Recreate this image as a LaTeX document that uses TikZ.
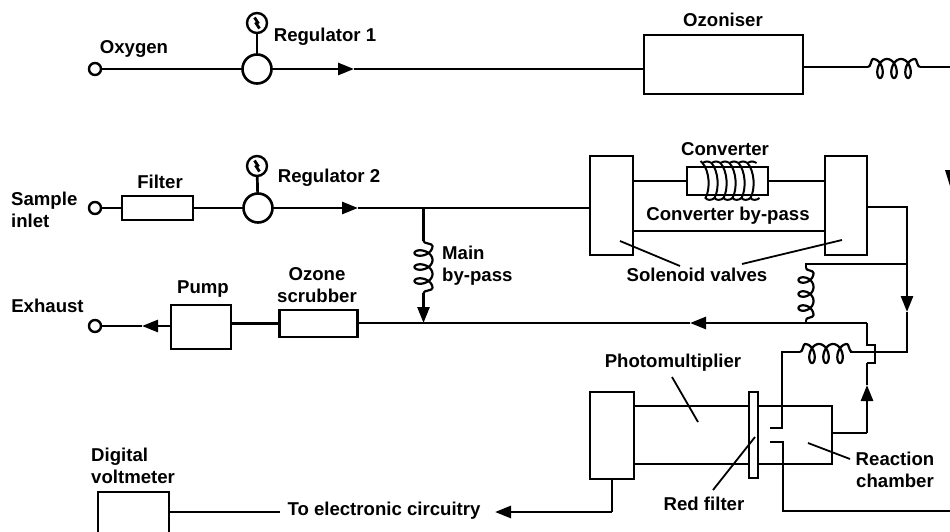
\documentclass[tikz,border=0pt]{standalone}
\usepackage{fontspec}
\setmainfont{Liberation Sans}[BoldFont={Liberation Sans Bold}]
\usetikzlibrary{arrows.meta}
\tikzset{
  pipe/.style={line width=2.7pt,line join=miter},
  thinpipe/.style={line width=2.3pt},
  flow/.style={pipe,-{Triangle[length=16pt,width=12pt]}},
  unit/.style={draw,line width=2.1pt,fill=white,rectangle,inner sep=0pt,outer sep=0pt},
  port/.style={draw,line width=2.4pt,circle,fill=white,minimum size=12pt,inner sep=0pt,outer sep=0pt},
  reg/.style={draw,line width=2.6pt,circle,fill=white,minimum size=29pt,inner sep=0pt,outer sep=0pt},
  gauge/.style={draw,line width=2.4pt,circle,fill=white,minimum size=20pt,inner sep=0pt,outer sep=0pt},
  lbl/.style={font=\fontsize{18.6}{22}\selectfont\bfseries,inner sep=0pt,align=center},
  lbll/.style={lbl,align=left},
  leader/.style={line width=1.8pt},
  coil/.style={line width=2.2pt,line join=round}
}
\newcommand{\coilh}[1]{\draw[coil,shift={(#1)}] (0,0) .. controls (3,0) and (3,-8) .. (5,-8)
  -- plot[samples=110,domain=-180:900,variable=\t] ({5+0.03892*(\t+180)-5.8*sin(\t)},{1.5+9.5*cos(\t)})
  .. controls (49,-8) and (49,0) .. (52,0);}
\newcommand{\coilv}[2]{\draw[coil,shift={(#1)}] (0,0) .. controls (0,3) and (#2,2) .. (#2,5)
  -- plot[samples=110,domain=-180:900,variable=\t] ({-#2*cos(\t)},{5+0.03892*(\t+180)-5.8*sin(\t)})
  .. controls (#2,50) and (0,49) .. (0,52);}
\newcommand{\needle}[1]{\draw[line width=2.8pt,shift={(#1)}] (-2.5,-5.5) -- (0.8,-0.5) -- (-0.8,0.5) -- (2.5,5.5);}
\begin{document}
\begin{tikzpicture}[x=1pt,y=-1pt]
\useasboundingbox (0,0) rectangle (950,532);
% units
\node[port] (oxy) at (95,69) {};
\node[reg] (reg1) at (257,69) {};
\node[gauge] (g1) at (257,23) {};
\node[unit,minimum width=159pt,minimum height=59pt] (ozoniser) at (723.5,64.5) {};
\node[port] (sample) at (95,208) {};
\node[unit,minimum width=71pt,minimum height=24pt] (filter) at (157.5,208) {};
\node[reg] (reg2) at (258,208) {};
\node[gauge] (g2) at (257,166) {};
\node[unit,minimum width=43pt,minimum height=99pt] (valveL) at (611.5,205.5) {};
\node[unit,minimum width=42pt,minimum height=99pt] (valveR) at (846,205.5) {};
\node[port] (exhaust) at (95,326) {};
\node[unit,minimum width=60pt,minimum height=44pt] (pump) at (201,327) {};
\node[unit,minimum width=78pt,minimum height=27pt] (scrubber) at (318.5,323.5) {};
\node[unit,minimum width=198pt,minimum height=58pt] (tube) at (733,435) {};
\node[unit,minimum width=44pt,minimum height=87pt] (pmt) at (612,435.5) {};
\node[unit,minimum width=9pt,minimum height=86pt] (red) at (753.5,435) {};
\node[unit,minimum width=71pt,minimum height=60pt] (dvm) at (133.5,522) {};
% junctions
\coordinate (ar1) at (354,69);
\coordinate (c1a) at (868,67);
\coordinate (c1b) at (920,67);
\coordinate (edge1) at (950,67);
\coordinate (ar2) at (358,208);
\coordinate (jmain) at (423.5,208);
\coordinate (mc1) at (423.5,241);
\coordinate (mc2) at (423.5,293);
\coordinate (jmain2) at (423.5,323);
\coordinate (rv) at (907,207);
\coordinate (jr) at (907,264);
\coordinate (ar3) at (907,312);
\coordinate (rc) at (907,352);
\coordinate (c2b) at (850,352);
\coordinate (c2a) at (800,352);
\coordinate (inA) at (782,352);
\coordinate (inB) at (782,428);
\coordinate (inC) at (770,428);
\coordinate (outC) at (770,442);
\coordinate (outB) at (783,442);
\coordinate (outD) at (783,511);
\coordinate (edge2) at (950,511);
\coordinate (c3t) at (806,264);
\coordinate (c3a) at (806,268);
\coordinate (c3b) at (806,320);
\coordinate (j3) at (806,323);
\coordinate (mr) at (867,323);
\coordinate (ar4) at (690,323);
\coordinate (jogA) at (867,345);
\coordinate (jogB) at (875,345);
\coordinate (jogC) at (875,363);
\coordinate (jogD) at (867,363);
\coordinate (ar5) at (867,385);
\coordinate (chamb) at (867,433);
\coordinate (ar6) at (142,326);
\coordinate (pmtb) at (612,512);
\coordinate (ar7) at (495,512);
\coordinate (teL) at (280,512);
% top line
\draw[pipe] (oxy) -- (reg1);
\draw[flow] (reg1) -- (ar1);
\draw[pipe] (ar1) -- (ar1 -| ozoniser.west);
\draw[pipe] (c1a -| ozoniser.east) -- (c1a);
\coilh{c1a}
\draw[pipe] (c1b) -- (edge1);
\fill (945,170) -- (950,170) -- (950,186) -- cycle;
\draw[pipe] (g1) -- (reg1);
% second line
\draw[thinpipe] (sample) -- (filter);
\draw[thinpipe] (filter) -- (reg2);
\draw[pipe] (g2) -- (reg2);
\draw[flow] (reg2) -- (ar2);
\draw[pipe] (ar2) -- (ar2 -| valveL.west);
\draw[pipe] (jmain) -- (mc1);
\coilv{mc1}{9}
\draw[flow] (mc2) -- (jmain2);
% valves and converter
\node[unit,minimum width=81pt,minimum height=28pt] (conv) at (727.5,181) {};
\draw[pipe] (conv.west -| valveL.east) -- (conv.west);
\draw[pipe] (conv.east) -- (conv.east -| valveR.west);
\draw[pipe] (valveL.east |- 0,231) -- (valveR.west |- 0,231);
\begin{scope}[shift={(conv.center)}]
\foreach \x in {-25,-16,-7,2,11,20} {
  \draw[line width=2pt] (\x,-18) .. controls (\x+7,-10) and (\x+8,8) .. (\x+3,17)
     .. controls (\x+5,19.5) and (\x+9,19.5) .. (\x+12,17);
  \draw[line width=2pt] (\x,-18) .. controls (\x+3,-20) and (\x+6,-20) .. (\x+9,-18);
}
\draw[line width=2pt] (-27,-20) -- (-25,-18);
\end{scope}
% right side
\draw[pipe] (valveR.east |- rv) -- (rv) -- (jr);
\draw[flow] (jr) -- (ar3);
\draw[pipe] (ar3) -- (rc) -- (c2b);
\coilh{c2a}
\draw[pipe] (c2a) -- (inA) -- (inB) -- (inC);
\draw[pipe] (outC) -- (outB) -- (outD) -- (edge2);
\draw[thinpipe] (jr) -- (c3t) -- (c3a);
\coilv{c3a}{7.5}
\draw[pipe] (c3b) -- (j3);
\draw[pipe] (jogD) -- (jogC) -- (jogB) -- (jogA) -- (mr);
\draw[flow] (mr) -- (ar4);
\draw[pipe] (ar4) -- (scrubber.east |- ar4);
\draw[pipe] (tube.east |- chamb) -- (chamb);
\draw[flow] (chamb) -- (ar5);
\draw[pipe] (ar5) -- (jogD);
% exhaust
\draw[thinpipe] (pump.east |- scrubber.west) -- (scrubber.west);
\draw[flow] (pump.west |- ar6) -- (ar6);
\draw[pipe] (ar6) -- (exhaust);
% output
\draw[pipe] (pmt.south) -- (pmtb);
\draw[flow] (pmtb) -- (ar7);
\draw[pipe] (dvm.east |- teL) -- (teL);
% needles
\needle{g1}
\needle{g2}
% leaders
\coordinate (l1a) at (620,241); \coordinate (l1b) at (680,266);
\coordinate (l2a) at (842,240); \coordinate (l2b) at (742,264);
\coordinate (l3a) at (672,377); \coordinate (l3b) at (698,422);
\coordinate (l4a) at (713,490); \coordinate (l4b) at (755,437);
\coordinate (l5a) at (850,459); \coordinate (l5b) at (808,443);
\draw[leader] (l1a) -- (l1b);
\draw[leader] (l2a) -- (l2b);
\draw[leader] (l3a) -- (l3b);
\draw[leader] (l4a) -- (l4b);
\draw[leader] (l5a) -- (l5b);
% labels
\node[lbl] (tOxy) at (134,49) {Oxygen};
\node[lbl] (tR1) at (325,37) {Regulator 1};
\node[lbl] (tOz) at (723,20) {Ozoniser};
\node[lbl] (tFil) at (160,182) {Filter};
\node[lbl] (tR2) at (329,178) {Regulator 2};
\node[lbll,anchor=west] (tSam) at (11,209.5) {Sample\\inlet};
\node[lbl] (tEx) at (47.5,306) {Exhaust};
\node[lbl] (tPu) at (203,289) {Pump};
\node[lbl] (tSc) at (317,285) {Ozone\\scrubber};
\node[lbll,anchor=west] (tMa) at (442,266) {Main\\by-pass};
\node[lbll,anchor=west] (tDv) at (91,466) {Digital\\voltmeter};
\node[lbl] (tTo) at (384,511) {To electronic circuitry};
\node[lbl] (tCo) at (725,149) {Converter};
\node[lbl] (tCb) at (728,216) {Converter by-pass};
\node[lbl] (tSo) at (697,275) {Solenoid valves};
\node[lbl] (tPh) at (673,363) {Photomultiplier};
\node[lbl] (tRf) at (704,504) {Red filter};
\node[lbl] (tRc) at (895,470) {Reaction\\chamber};
\end{tikzpicture}
\end{document}
